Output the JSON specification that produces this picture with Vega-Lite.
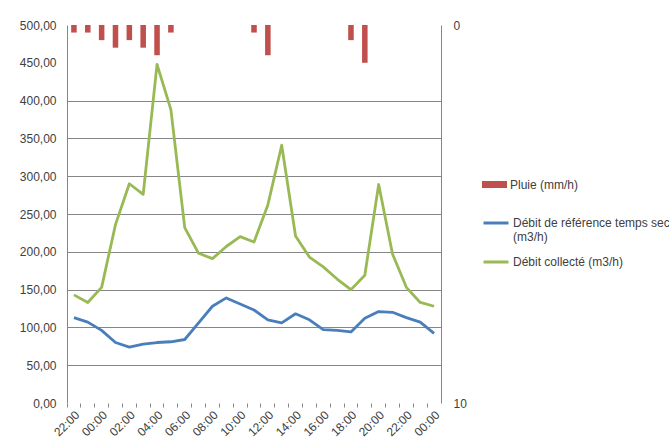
{
  "$schema": "https://vega.github.io/schema/vega-lite/v6.json",
  "width": 374,
  "height": 378,
  "autosize": "none",
  "padding": {"left": 67, "top": 25, "right": 228, "bottom": 45},
  "background": "white",
  "config": {"font": "Liberation Sans", "view": {"stroke": null}},
  "datasets": {
    "pluie": [
      {"t": "1 22:00", "pluie": 0.2}, {"t": "1 23:00", "pluie": 0.2}, {"t": "2 00:00", "pluie": 0.4},
      {"t": "2 01:00", "pluie": 0.6}, {"t": "2 02:00", "pluie": 0.4}, {"t": "2 03:00", "pluie": 0.6},
      {"t": "2 04:00", "pluie": 0.8}, {"t": "2 05:00", "pluie": 0.2}, {"t": "2 06:00", "pluie": 0},
      {"t": "2 07:00", "pluie": 0}, {"t": "2 08:00", "pluie": 0}, {"t": "2 09:00", "pluie": 0},
      {"t": "2 10:00", "pluie": 0}, {"t": "2 11:00", "pluie": 0.2}, {"t": "2 12:00", "pluie": 0.8},
      {"t": "2 13:00", "pluie": 0}, {"t": "2 14:00", "pluie": 0}, {"t": "2 15:00", "pluie": 0},
      {"t": "2 16:00", "pluie": 0}, {"t": "2 17:00", "pluie": 0}, {"t": "2 18:00", "pluie": 0.4},
      {"t": "2 19:00", "pluie": 1.0}, {"t": "2 20:00", "pluie": 0}, {"t": "2 21:00", "pluie": 0},
      {"t": "2 22:00", "pluie": 0}, {"t": "2 23:00", "pluie": 0}, {"t": "3 00:00", "pluie": 0}
    ],
    "debits": [
      {"t": "1 22:00", "serie": "Débit de référence temps sec (m3/h)", "valeur": 113},
      {"t": "1 23:00", "serie": "Débit de référence temps sec (m3/h)", "valeur": 107},
      {"t": "2 00:00", "serie": "Débit de référence temps sec (m3/h)", "valeur": 96},
      {"t": "2 01:00", "serie": "Débit de référence temps sec (m3/h)", "valeur": 80},
      {"t": "2 02:00", "serie": "Débit de référence temps sec (m3/h)", "valeur": 74},
      {"t": "2 03:00", "serie": "Débit de référence temps sec (m3/h)", "valeur": 78},
      {"t": "2 04:00", "serie": "Débit de référence temps sec (m3/h)", "valeur": 80},
      {"t": "2 05:00", "serie": "Débit de référence temps sec (m3/h)", "valeur": 81},
      {"t": "2 06:00", "serie": "Débit de référence temps sec (m3/h)", "valeur": 84},
      {"t": "2 07:00", "serie": "Débit de référence temps sec (m3/h)", "valeur": 106},
      {"t": "2 08:00", "serie": "Débit de référence temps sec (m3/h)", "valeur": 128},
      {"t": "2 09:00", "serie": "Débit de référence temps sec (m3/h)", "valeur": 139},
      {"t": "2 10:00", "serie": "Débit de référence temps sec (m3/h)", "valeur": 131},
      {"t": "2 11:00", "serie": "Débit de référence temps sec (m3/h)", "valeur": 123},
      {"t": "2 12:00", "serie": "Débit de référence temps sec (m3/h)", "valeur": 110},
      {"t": "2 13:00", "serie": "Débit de référence temps sec (m3/h)", "valeur": 106},
      {"t": "2 14:00", "serie": "Débit de référence temps sec (m3/h)", "valeur": 118},
      {"t": "2 15:00", "serie": "Débit de référence temps sec (m3/h)", "valeur": 110},
      {"t": "2 16:00", "serie": "Débit de référence temps sec (m3/h)", "valeur": 97},
      {"t": "2 17:00", "serie": "Débit de référence temps sec (m3/h)", "valeur": 96},
      {"t": "2 18:00", "serie": "Débit de référence temps sec (m3/h)", "valeur": 94},
      {"t": "2 19:00", "serie": "Débit de référence temps sec (m3/h)", "valeur": 112},
      {"t": "2 20:00", "serie": "Débit de référence temps sec (m3/h)", "valeur": 121},
      {"t": "2 21:00", "serie": "Débit de référence temps sec (m3/h)", "valeur": 120},
      {"t": "2 22:00", "serie": "Débit de référence temps sec (m3/h)", "valeur": 113},
      {"t": "2 23:00", "serie": "Débit de référence temps sec (m3/h)", "valeur": 107},
      {"t": "3 00:00", "serie": "Débit de référence temps sec (m3/h)", "valeur": 92},
      {"t": "1 22:00", "serie": "Débit collecté (m3/h)", "valeur": 143},
      {"t": "1 23:00", "serie": "Débit collecté (m3/h)", "valeur": 133},
      {"t": "2 00:00", "serie": "Débit collecté (m3/h)", "valeur": 153},
      {"t": "2 01:00", "serie": "Débit collecté (m3/h)", "valeur": 236},
      {"t": "2 02:00", "serie": "Débit collecté (m3/h)", "valeur": 290},
      {"t": "2 03:00", "serie": "Débit collecté (m3/h)", "valeur": 276},
      {"t": "2 04:00", "serie": "Débit collecté (m3/h)", "valeur": 448},
      {"t": "2 05:00", "serie": "Débit collecté (m3/h)", "valeur": 388},
      {"t": "2 06:00", "serie": "Débit collecté (m3/h)", "valeur": 232},
      {"t": "2 07:00", "serie": "Débit collecté (m3/h)", "valeur": 198},
      {"t": "2 08:00", "serie": "Débit collecté (m3/h)", "valeur": 191},
      {"t": "2 09:00", "serie": "Débit collecté (m3/h)", "valeur": 207},
      {"t": "2 10:00", "serie": "Débit collecté (m3/h)", "valeur": 220},
      {"t": "2 11:00", "serie": "Débit collecté (m3/h)", "valeur": 213},
      {"t": "2 12:00", "serie": "Débit collecté (m3/h)", "valeur": 262},
      {"t": "2 13:00", "serie": "Débit collecté (m3/h)", "valeur": 341},
      {"t": "2 14:00", "serie": "Débit collecté (m3/h)", "valeur": 221},
      {"t": "2 15:00", "serie": "Débit collecté (m3/h)", "valeur": 193},
      {"t": "2 16:00", "serie": "Débit collecté (m3/h)", "valeur": 180},
      {"t": "2 17:00", "serie": "Débit collecté (m3/h)", "valeur": 164},
      {"t": "2 18:00", "serie": "Débit collecté (m3/h)", "valeur": 150},
      {"t": "2 19:00", "serie": "Débit collecté (m3/h)", "valeur": 169},
      {"t": "2 20:00", "serie": "Débit collecté (m3/h)", "valeur": 289},
      {"t": "2 21:00", "serie": "Débit collecté (m3/h)", "valeur": 197},
      {"t": "2 22:00", "serie": "Débit collecté (m3/h)", "valeur": 153},
      {"t": "2 23:00", "serie": "Débit collecté (m3/h)", "valeur": 133},
      {"t": "3 00:00", "serie": "Débit collecté (m3/h)", "valeur": 128}
    ]
  },
  "layer": [
    {
      "data": {"name": "debits"},
      "mark": {"type": "line", "strokeWidth": 2.8, "strokeJoin": "round"},
      "encoding": {
        "x": {
          "field": "t", "type": "ordinal",
          "scale": {"type": "band", "paddingInner": 0, "paddingOuter": 0},
          "axis": {
            "title": null, "domain": false, "grid": false,
            "ticks": true, "tickColor": "#868686", "tickSize": 4, "bandPosition": 0,
            "labelAngle": -45, "labelFontSize": 12, "labelColor": "#404040",
            "labelOverlap": false, "labelPadding": 2,
            "labelExpr": "parseInt(substring(datum.label, 2, 4)) % 2 == 0 ? substring(datum.label, 2) : ''"
          }
        },
        "y": {
          "field": "valeur", "type": "quantitative",
          "scale": {"domain": [0, 500]},
          "axis": {
            "title": null,
            "values": [0, 50, 100, 150, 200, 250, 300, 350, 400, 450, 500],
            "labelExpr": "replace(format(datum.value, '.2f'), '.', ',')",
            "domain": true, "domainColor": "#868686",
            "ticks": false, "tickSize": 0, "labelPadding": 11,
            "labelFontSize": 12, "labelColor": "#404040",
            "grid": true, "gridColor": "#868686",
            "gridOpacity": {"condition": {"test": "datum.value >= 50 && datum.value <= 400", "value": 1}, "value": 0}
          }
        },
        "stroke": {
          "field": "serie", "type": "nominal",
          "scale": {"domain": ["Débit de référence temps sec (m3/h)", "Débit collecté (m3/h)"], "range": ["#4A7EBB", "#98B954"]},
          "legend": {
            "orient": "none", "legendX": 415, "legendY": 184, "title": null, "padding": 0,
            "symbolType": "stroke", "symbolSize": 625, "symbolStrokeWidth": 3,
            "labelFontSize": 12, "labelColor": "#404040", "labelOffset": 3, "labelLimit": 400,
            "rowPadding": 5,
            "labelExpr": "datum.label == 'Débit de référence temps sec (m3/h)' ? ['Débit de référence temps sec', '(m3/h)'] : datum.label"
          }
        }
      }
    },
    {
      "data": {"name": "pluie"},
      "mark": {"type": "bar", "width": {"band": 0.4}},
      "encoding": {
        "x": {"field": "t", "type": "ordinal"},
        "y": {
          "field": "pluie", "type": "quantitative",
          "scale": {"domain": [0, 10], "reverse": true},
          "axis": {
            "orient": "right", "title": null, "values": [0, 10],
            "domain": true, "domainColor": "#868686",
            "ticks": false, "tickSize": 0, "labelPadding": 12, "grid": false,
            "labelFontSize": 12, "labelColor": "#404040"
          }
        },
        "fill": {
          "datum": "Pluie (mm/h)",
          "scale": {"range": ["#C0504D"]},
          "legend": {
            "orient": "none", "legendX": 415, "legendY": 147, "title": null, "padding": 0,
            "symbolType": "M-1,-0.28H1V0.28H-1Z", "symbolSize": 625, "symbolStrokeWidth": 0,
            "labelFontSize": 12, "labelColor": "#404040", "labelOffset": 3
          }
        }
      }
    }
  ],
  "resolve": {"scale": {"y": "independent"}, "axis": {"y": "independent"}}
}
